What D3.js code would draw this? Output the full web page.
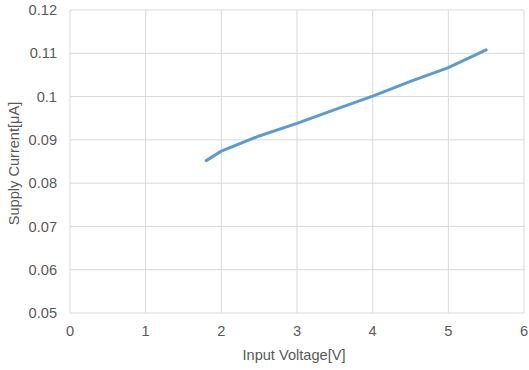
<!DOCTYPE html>
<html><head><meta charset="utf-8">
<script src="https://cdn.jsdelivr.net/npm/d3@7/dist/d3.min.js"></script>
<style>body{margin:0;background:#fff}svg{display:block}text{font-family:"Liberation Sans",Arial,sans-serif;fill:#595959}</style>
</head><body>
<script>
const voltage = [1.8, 2, 2.5, 3, 3.5, 4, 4.5, 5, 5.5];
const current = [0.0852, 0.0874, 0.0909, 0.0938, 0.0970, 0.1001, 0.1035, 0.1067, 0.1108];
const xTicks = [0, 1, 2, 3, 4, 5, 6];
const yTicks = [0.05, 0.06, 0.07, 0.08, 0.09, 0.1, 0.11, 0.12];

const W = 529, H = 370;
const FS = 14.6;
const m = {l: 70, r: 5, t: 10, b: 57};
const svg = d3.select("body").append("svg").attr("width", W).attr("height", H);
const x = d3.scaleLinear().domain([0, 6]).range([m.l, W - m.r]);
const y = d3.scaleLinear().domain([0.05, 0.12]).range([H - m.b, m.t]);

const g = svg.append("g");
g.selectAll(".gx").data(xTicks).join("line")
  .attr("x1", d => x(d)).attr("x2", d => x(d))
  .attr("y1", y(0.05)).attr("y2", y(0.12))
  .attr("stroke", "#d9d9d9").attr("stroke-width", 1);
g.selectAll(".gy").data(yTicks).join("line")
  .attr("x1", x(0)).attr("x2", x(6))
  .attr("y1", d => y(d)).attr("y2", d => y(d))
  .attr("stroke", "#d9d9d9").attr("stroke-width", 1);

g.selectAll(".tx").data(xTicks).join("text")
  .attr("x", d => x(d)).attr("y", y(0.05) + 23)
  .attr("text-anchor", "middle").attr("font-size", FS).text(d => d);
g.selectAll(".ty").data(yTicks).join("text")
  .attr("x", x(0) - 13).attr("y", d => y(d) + 5.2)
  .attr("text-anchor", "end").attr("font-size", FS).text(d => d);

svg.append("text").attr("x", 294).attr("y", 359.5)
  .attr("text-anchor", "middle").attr("font-size", FS).text("Input Voltage[V]");
svg.append("text").attr("transform", `translate(18.5,163.5) rotate(-90)`)
  .attr("text-anchor", "middle").attr("font-size", FS).text("Supply Current[μA]");

const line = d3.line().x((d, i) => x(voltage[i])).y(d => y(d));
svg.append("path").datum(current).attr("d", line)
  .attr("fill", "none").attr("stroke", "#5b9bd5").attr("stroke-width", 3)
  .attr("stroke-linecap", "round").attr("stroke-linejoin", "round");
</script>
</body></html>
